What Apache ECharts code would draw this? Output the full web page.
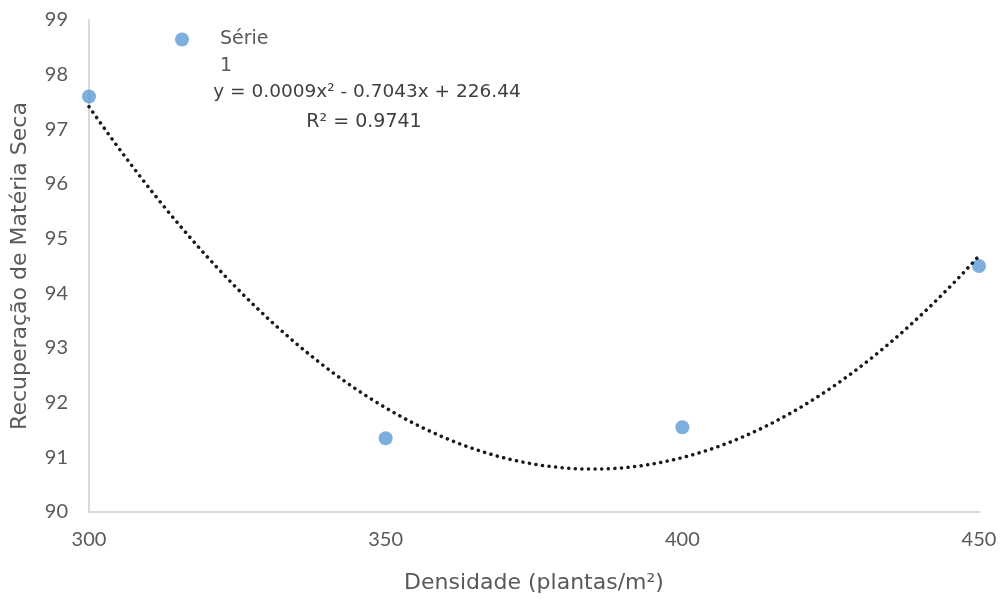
<!DOCTYPE html>
<html>
<head>
<meta charset="utf-8">
<script src="https://cdn.jsdelivr.net/npm/echarts@6/dist/echarts.min.js"></script>
<style>html,body{margin:0;padding:0;background:#fff;}#c{width:1003px;height:599px;}</style>
</head>
<body>
<div id="c"></div>
<script>
// Data
const densidade = [300, 350, 400, 450];
const recuperacao = [97.6, 91.35, 91.55, 94.5];
const seriesName = 'Série 1';
const equationText = 'y = 0.0009x² - 0.7043x + 226.44';
const r2Text = 'R² = 0.9741';
const xTicks = [300, 350, 400, 450];
const yTicks = [90, 91, 92, 93, 94, 95, 96, 97, 98, 99];

// Least-squares quadratic trendline fitted to the data (as the spreadsheet does)
function fitQuadratic(xs, ys) {
  const n = xs.length;
  const xm = xs.reduce((a, b) => a + b, 0) / n;
  const u = xs.map(x => x - xm);
  let S = [0, 0, 0, 0, 0], T = [0, 0, 0];
  for (let i = 0; i < n; i++) {
    for (let k = 0; k < 5; k++) S[k] += Math.pow(u[i], k);
    for (let k = 0; k < 3; k++) T[k] += Math.pow(u[i], k) * ys[i];
  }
  const M = [[S[0], S[1], S[2], T[0]], [S[1], S[2], S[3], T[1]], [S[2], S[3], S[4], T[2]]];
  for (let i = 0; i < 3; i++) {
    for (let j = i + 1; j < 3; j++) {
      const f = M[j][i] / M[i][i];
      for (let k = i; k < 4; k++) M[j][k] -= f * M[i][k];
    }
  }
  const c = [0, 0, 0];
  for (let i = 2; i >= 0; i--) {
    let s = M[i][3];
    for (let k = i + 1; k < 3; k++) s -= M[i][k] * c[k];
    c[i] = s / M[i][i];
  }
  return x => c[0] + c[1] * (x - xm) + c[2] * (x - xm) * (x - xm);
}
const trend = fitQuadratic(densidade, recuperacao);
const trendData = [];
for (let x = densidade[0]; x <= densidade[densidade.length - 1]; x += 1) trendData.push([x, trend(x)]);

const font = 'Lato, "Open Sans", sans-serif';
const wide = '"DejaVu Sans", Verdana, sans-serif';
const gray = '#595959';
const chart = echarts.init(document.getElementById('c'), null, {renderer: 'canvas'});
chart.setOption({
  animation: false,
  backgroundColor: '#fff',
  grid: {left: 89, right: 24, top: 20, bottom: 85},
  legend: {
    data: [seriesName],
    left: 170, top: 25,
    icon: 'circle', itemWidth: 14, itemHeight: 14,
    formatter: () => 'Série',
    textStyle: {fontFamily: wide, fontSize: 19, color: gray, padding: [0, 0, 0, 26]}
  },
  xAxis: {
    type: 'value', min: 300, max: 450, interval: 50,
    name: 'Densidade (plantas/m²)', nameLocation: 'middle', nameGap: 60,
    nameTextStyle: {fontFamily: wide, fontSize: 22, color: gray},
    axisLine: {show: true, lineStyle: {color: '#d9d9d9', width: 2}},
    axisTick: {show: false}, splitLine: {show: false},
    axisLabel: {fontFamily: font, fontSize: 20, color: gray, margin: 18,
      formatter: v => xTicks.includes(v) ? String(v) : ''}
  },
  yAxis: {
    type: 'value', min: 90, max: 99, interval: 1,
    name: 'Recuperação de Matéria Seca', nameLocation: 'middle', nameGap: 58,
    nameTextStyle: {fontFamily: wide, fontSize: 22, color: gray},
    axisLine: {show: true, lineStyle: {color: '#d9d9d9', width: 2}},
    axisTick: {show: false}, splitLine: {show: false},
    axisLabel: {fontFamily: font, fontSize: 20, color: gray, margin: 21,
      formatter: v => yTicks.includes(v) ? String(v) : ''}
  },
  graphic: [
    {type: 'text', x: 220, y: 66, style: {text: '1', fontFamily: wide, fontSize: 19, fill: gray, align: 'left', verticalAlign: 'middle'}},
    {type: 'text', x: 367, y: 92, style: {text: equationText, fontFamily: wide, fontSize: 18.5, fill: '#404040', align: 'center', verticalAlign: 'middle'}},
    {type: 'text', x: 364, y: 122, style: {text: r2Text, fontFamily: wide, fontSize: 19, fill: '#404040', align: 'center', verticalAlign: 'middle'}}
  ],
  series: [
    {
      name: seriesName, type: 'scatter', data: densidade.map((x, i) => [x, recuperacao[i]]),
      symbol: 'circle', symbolSize: 14, itemStyle: {color: '#5b9bd5'}, z: 2
    },
    {
      name: 'Tendência', type: 'line', data: trendData, showSymbol: false, smooth: false,
      lineStyle: {color: '#1a1a1a', width: 3.5, type: [0.1, 6.5], cap: 'round'}, z: 3,
      silent: true
    }
  ]
});
</script>
</body>
</html>
